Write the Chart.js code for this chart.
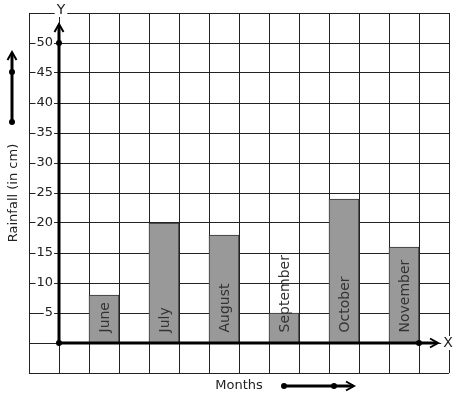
<!DOCTYPE html>
<html><head><meta charset="utf-8">
<script src="https://cdn.jsdelivr.net/npm/chart.js@4/dist/chart.umd.min.js"></script>
<style>html,body{margin:0;padding:0;background:#fff;}canvas{display:block;}</style>
</head><body>
<canvas id="c" width="457" height="399"></canvas>
<script>
// ---- data ----
const months = ['June', 'July', 'August', 'September', 'October', 'November'];
const rainfall = [8, 20, 18, 5, 24, 16];
const yTickLabels = [5, 10, 15, 20, 25, 30, 35, 40, 45, 50];
const yTitle = 'Rainfall (in cm)';
const xTitle = 'Months';
const xAxisName = 'X';
const yAxisName = 'Y';

const FONT = '"DejaVu Sans", sans-serif';
const GRID = '#222';
const TEXT = '#222';

// each month occupies every second grid cell, starting one cell right of the y axis
const barPoints = months.map((m, i) => ({ x: 1.5 + 2 * i, y: rainfall[i] }));

function arrowHead(ctx, x, y, dir) {
  ctx.beginPath();
  if (dir === 'up') {
    ctx.moveTo(x - 4.5, y + 8); ctx.lineTo(x, y); ctx.lineTo(x + 4.5, y + 8);
  } else {
    ctx.moveTo(x - 8, y - 4.5); ctx.lineTo(x, y); ctx.lineTo(x - 8, y + 4.5);
  }
  ctx.stroke();
}
function dot(ctx, x, y) {
  ctx.beginPath(); ctx.arc(x, y, 3, 0, Math.PI * 2); ctx.fill();
}
function boxedText(ctx, t, x, y) {
  const w = ctx.measureText(t).width;
  ctx.fillStyle = '#fff';
  ctx.fillRect(x - w / 2 - 2, y - 7, w + 4, 14);
  ctx.fillStyle = TEXT;
  ctx.fillText(t, x, y);
}

const deco = {
  id: 'deco',
  afterDatasetsDraw(chart) {
    const { ctx, chartArea, scales: { x, y } } = chart;
    const meta = chart.getDatasetMeta(0);
    ctx.save();
    ctx.font = '14px ' + FONT;
    ctx.fillStyle = '#333';
    ctx.textAlign = 'left';
    ctx.textBaseline = 'middle';
    meta.data.forEach((bar, i) => {
      ctx.save();
      ctx.translate(bar.x + 1, bar.base - 10);
      ctx.rotate(-Math.PI / 2);
      ctx.fillText(months[i], 0, 0);
      ctx.restore();
    });

    const ox = x.getPixelForValue(0), oy = y.getPixelForValue(0);
    const yTip = chartArea.top + 11, xTip = chartArea.right - 11;
    ctx.strokeStyle = '#000'; ctx.fillStyle = '#000';
    ctx.lineWidth = 3; ctx.lineCap = 'butt';
    ctx.beginPath(); ctx.moveTo(ox, oy); ctx.lineTo(ox, yTip + 1); ctx.stroke();
    ctx.beginPath(); ctx.moveTo(ox, oy); ctx.lineTo(xTip - 1, oy); ctx.stroke();
    ctx.lineWidth = 2;
    arrowHead(ctx, ox, yTip, 'up');
    arrowHead(ctx, xTip, oy, 'right');
    dot(ctx, ox, oy);
    dot(ctx, ox, y.getPixelForValue(50));
    dot(ctx, x.getPixelForValue(12), oy);

    ctx.lineWidth = 3;
    ctx.beginPath(); ctx.moveTo(12, 122); ctx.lineTo(12, 53); ctx.stroke();
    ctx.lineWidth = 2; arrowHead(ctx, 12, 52, 'up');
    dot(ctx, 12, 122); dot(ctx, 12, 72);
    ctx.lineWidth = 3;
    ctx.beginPath(); ctx.moveTo(284, 386); ctx.lineTo(353, 386); ctx.stroke();
    ctx.lineWidth = 2; arrowHead(ctx, 354, 386, 'right');
    dot(ctx, 284, 386); dot(ctx, 334, 386);

    ctx.font = '14px ' + FONT;
    ctx.textAlign = 'center';
    ctx.textBaseline = 'middle';
    boxedText(ctx, yAxisName, ox + 2, chartArea.top - 3);
    boxedText(ctx, xAxisName, chartArea.right - 1, oy);
    ctx.restore();
  }
};

new Chart(document.getElementById('c'), {
  type: 'bar',
  data: {
    datasets: [{
      data: barPoints,
      backgroundColor: '#999999',
      borderColor: '#333',
      borderWidth: 1,
      barPercentage: 1,
      categoryPercentage: 1
    }]
  },
  options: {
    responsive: false,
    animation: false,
    layout: { padding: { top: 13, right: 8, left: 0, bottom: 0 } },
    plugins: { legend: { display: false }, tooltip: { enabled: false } },
    scales: {
      x: {
        type: 'linear', min: -1, max: 13, offset: false,
        ticks: { stepSize: 1, display: false },
        grid: { color: GRID, drawTicks: false, offset: false },
        border: { display: false },
        title: { display: true, text: xTitle, color: TEXT, font: { size: 13, family: FONT }, padding: { top: 4, bottom: 6 } },
        afterFit(s) { s.height = 26; s.paddingLeft = 0; s.paddingRight = 0; }
      },
      y: {
        type: 'linear', min: -5, max: 55,
        ticks: {
          stepSize: 5, mirror: true, crossAlign: 'far', padding: 7.5,
          color: TEXT, font: { size: 13, family: FONT },
          callback: v => yTickLabels.includes(v) ? String(v) : '',
          showLabelBackdrop: true,
          backdropColor: c => yTickLabels.includes(c.tick.value) ? '#fff' : 'rgba(0,0,0,0)',
          backdropPadding: 1
        },
        grid: { color: GRID, drawTicks: false },
        border: { display: false },
        title: { display: true, text: yTitle, color: TEXT, font: { size: 13, family: FONT }, padding: { top: 6, bottom: 0 } },
        afterFit(s) { s.width = 29; s.paddingTop = 0; s.paddingBottom = 0; }
      }
    }
  },
  plugins: [deco]
});
</script>
</body></html>
